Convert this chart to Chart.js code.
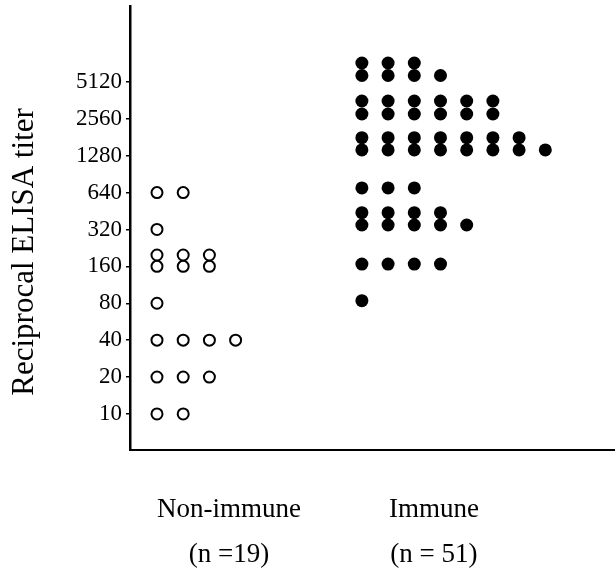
<!DOCTYPE html>
<html>
<head>
<meta charset="utf-8">
<script src="https://cdn.jsdelivr.net/npm/chart.js@4"></script>
<style>
    html, body { margin: 0; padding: 0; background: #fff; overflow: hidden; }
    #wrap { width: 615px; height: 578px; position: relative; }
</style>
</head>
<body>
<div id="wrap"><canvas id="titerChart"></canvas></div>
<script>
// y axis tick values (reciprocal titer)
const titerTicks = [10, 20, 40, 80, 160, 320, 640, 1280, 2560, 5120];

// each row of dots: titer level as drawn, and how many dots sit in that row
const nonImmuneRows = [10, 20, 40, 80, 160, 198, 320, 640];
const nonImmuneCounts = [2, 3, 4, 1, 3, 3, 1, 2];
const immuneRows = [84, 167, 348, 439, 698, 1425, 1795, 2800, 3575, 5775, 7300];
const immuneCounts = [1, 4, 5, 4, 3, 8, 7, 6, 6, 4, 3];

const groupLabels = [['Non-immune', '(n =19)'], ['Immune', '(n = 51)']];

// layout of the x axis, in dot-column units
const X_MAX = 18.51;
const NON_IMMUNE_START = 1.03;
const IMMUNE_START = 8.85;
const LABEL_POS = [3.78, 11.6];

const SERIF = "'Liberation Serif', 'Times New Roman', serif";

function buildPoints(rows, counts, start) {
    const pts = [];
    rows.forEach((level, i) => {
        for (let k = 0; k < counts[i]; k++) {
            pts.push({ x: start + k, y: level });
        }
    });
    return pts;
}

const yTitlePlugin = {
    id: 'yTitle',
    afterDraw(chart) {
        const ctx = chart.ctx;
        ctx.save();
        ctx.translate(33, 252);
        ctx.rotate(-Math.PI / 2);
        ctx.font = '31px ' + SERIF;
        ctx.fillStyle = '#000';
        ctx.textAlign = 'center';
        ctx.textBaseline = 'alphabetic';
        ctx.fillText('Reciprocal ELISA titer', 0, 0);
        ctx.restore();
    }
};

new Chart(document.getElementById('titerChart'), {
    type: 'scatter',
    data: {
        datasets: [
            {
                label: 'Non-immune',
                data: buildPoints(nonImmuneRows, nonImmuneCounts, NON_IMMUNE_START),
                pointStyle: 'circle',
                pointRadius: 5.5,
                borderWidth: 2,
                borderColor: '#000',
                backgroundColor: '#fff'
            },
            {
                label: 'Immune',
                data: buildPoints(immuneRows, immuneCounts, IMMUNE_START),
                pointStyle: 'circle',
                pointRadius: 6.5,
                borderWidth: 0,
                borderColor: '#000',
                backgroundColor: '#000'
            }
        ]
    },
    options: {
        responsive: true,
        maintainAspectRatio: false,
        animation: false,
        layout: {
            autoPadding: false,
            padding: { top: 6, right: 0, left: 0, bottom: 0 }
        },
        plugins: {
            legend: { display: false },
            tooltip: { enabled: false }
        },
        scales: {
            x: {
                type: 'linear',
                min: 0,
                max: X_MAX,
                afterFit: (scale) => {
                    scale.height = 128;
                    scale.paddingLeft = 0;
                    scale.paddingRight = 0;
                },
                afterBuildTicks: (scale) => {
                    scale.ticks = LABEL_POS.map(v => ({ value: v }));
                },
                grid: { display: false, drawTicks: false, tickLength: 0 },
                border: { display: true, color: '#000', width: 2 },
                ticks: {
                    color: '#000',
                    font: { family: SERIF, size: 27, lineHeight: 1.667 },
                    padding: 37,
                    maxRotation: 0,
                    autoSkip: false,
                    callback: (value, index) => groupLabels[index]
                }
            },
            y: {
                type: 'logarithmic',
                min: 5.08,
                max: 21300,
                afterFit: (scale) => {
                    scale.width = 130;
                    scale.paddingTop = 0;
                    scale.paddingBottom = 0;
                },
                afterBuildTicks: (scale) => {
                    scale.ticks = titerTicks.map(v => ({ value: v }));
                },
                grid: {
                    display: true,
                    drawOnChartArea: false,
                    drawTicks: true,
                    tickLength: 4,
                    color: '#000',
                    lineWidth: 1.5
                },
                border: { display: true, color: '#000', width: 2.5 },
                ticks: {
                    color: '#000',
                    font: { family: SERIF, size: 23 },
                    padding: 4,
                    autoSkip: false,
                    callback: (value) => String(value)
                }
            }
        }
    },
    plugins: [yTitlePlugin]
});
</script>
</body>
</html>
